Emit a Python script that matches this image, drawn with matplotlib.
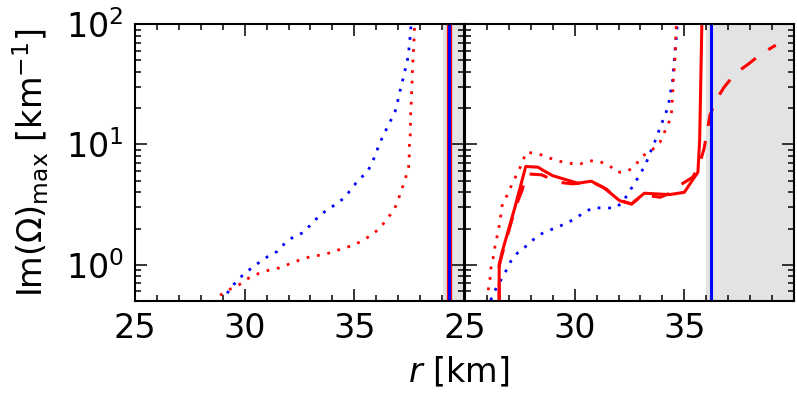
import matplotlib
matplotlib.use('Agg')
import matplotlib.pyplot as plt
from matplotlib.ticker import MultipleLocator, FixedLocator
import numpy as np

# ---- left panel ----
left_blue_r = [29.20, 29.50, 29.85, 30.23, 30.64, 31.05, 31.48, 31.83, 32.23, 32.67,
               33.03, 33.38, 33.77, 34.20, 34.59, 34.89, 35.21, 35.58, 35.82, 36.00,
               36.18, 36.41, 36.62, 36.85, 36.98, 37.09, 37.21, 37.33, 37.44, 37.50,
               37.55, 37.59]
left_blue_y = [0.58, 0.685, 0.80, 0.914, 1.04, 1.17, 1.29, 1.51, 1.71, 1.85,
               2.17, 2.53, 2.87, 3.22, 3.66, 4.35, 5.11, 5.87, 7.08, 8.63,
               10.5, 12.8, 15.3, 18.6, 23.0, 28.2, 34.6, 42.8, 52.4, 64.7,
               80.5, 100.0]

left_red_r = [28.88, 29.30, 29.76, 30.18, 30.64, 31.11, 31.59, 32.06, 32.53, 33.01,
              33.52, 34.00, 34.47, 34.95, 35.40, 35.83, 36.20, 36.50, 36.82, 37.00,
              37.17, 37.32, 37.47, 37.50, 37.51, 37.55, 37.56, 37.57, 37.60, 37.61,
              37.64, 37.65, 37.68, 37.71, 37.73, 37.75]
left_red_y = [0.558, 0.623, 0.685, 0.775, 0.847, 0.903, 0.944, 1.02, 1.10, 1.17,
              1.21, 1.27, 1.37, 1.45, 1.60, 1.79, 2.05, 2.42, 2.87, 3.48,
              4.27, 5.18, 6.40, 7.89, 9.75, 12.1, 15.1, 18.6, 23.0, 28.2,
              35.0, 43.3, 53.4, 66.0, 82.0, 100.0]

left_surface = 39.02
left_red_line = 39.30
left_blue_line = 39.32

# ---- right panel ----
right_blue_r = [26.17, 26.36, 26.85, 27.09, 27.39, 27.79, 28.17, 28.59, 29.06, 29.52,
                29.97, 30.38, 30.82, 31.33, 31.83, 32.20, 32.45, 32.73, 33.00, 33.24,
                33.42, 33.61, 33.80, 33.99, 34.17, 34.30, 34.39, 34.47, 34.51, 34.55,
                34.59, 34.64, 34.68]
right_blue_y = [0.508, 0.607, 0.875, 1.07, 1.25, 1.43, 1.65, 1.86, 2.00, 2.17,
                2.39, 2.68, 2.97, 2.97, 2.96, 3.31, 3.96, 4.73, 5.73, 6.85,
                8.36, 10.0, 12.4, 15.3, 18.5, 22.5, 28.2, 34.1, 42.8, 51.8,
                64.7, 79.4, 100.0]

right_red_dot_r = [26.06, 26.14, 26.18, 26.29, 26.36, 26.47, 26.58, 26.71, 26.98, 27.15,
                   27.39, 27.61, 27.77, 28.24, 28.70, 29.17, 29.67, 30.17, 30.65, 31.09,
                   31.58, 31.95, 32.45, 32.79, 33.09, 33.55, 33.89, 34.09, 34.30, 34.42,
                   34.45, 34.48, 34.50, 34.55, 34.58, 34.60, 34.63]
right_red_dot_y = [0.615, 0.76, 0.93, 1.15, 1.39, 1.74, 2.18, 3.27, 3.93, 4.73,
                   5.77, 6.98, 8.57, 8.47, 7.94, 7.31, 7.04, 6.78, 7.31, 7.28,
                   6.68, 5.84, 6.04, 6.81, 7.99, 9.08, 10.4, 12.6, 15.3, 18.7,
                   23.1, 28.4, 35.0, 43.8, 54.0, 66.8, 100.0]

right_red_solid_r = [26.56, 26.56, 26.67, 27.27, 27.77, 28.33, 28.56, 29.00, 30.15, 30.76,
                     31.29, 31.59, 32.05, 32.58, 33.18, 34.32, 35.00, 35.38, 35.62, 35.70,
                     35.80]
right_red_solid_y = [0.5, 1.0, 1.23, 2.97, 6.56, 6.47, 6.10, 5.50, 4.76, 4.95,
                     4.41, 4.00, 3.41, 3.20, 3.93, 3.83, 4.00, 5.08, 5.87, 10.8,
                     100.0]

right_red_dash_r = [26.56, 26.56, 26.70, 27.30, 27.60, 27.80, 28.50, 29.24, 29.92, 30.76,
                    31.44, 32.00, 32.60, 33.18, 33.50, 33.90, 34.30, 34.77, 35.38, 35.65,
                    35.90, 36.17, 36.44, 36.82, 37.32, 37.95, 38.53, 39.17]
right_red_dash_y = [0.5, 0.98, 1.23, 3.00, 4.14, 5.70, 5.59, 4.85, 4.70, 4.90,
                    4.27, 3.46, 3.20, 3.88, 3.72, 3.64, 3.90, 4.55, 5.34, 6.47,
                    9.20, 17.5, 23.3, 30.0, 38.8, 47.0, 57.0, 66.8]

right_surface = 35.97
right_blue_line = 36.20

plt.rcParams['font.family'] = 'DejaVu Sans'
plt.rcParams['font.size'] = 24
plt.rcParams['mathtext.fontset'] = 'dejavusans'

fig = plt.figure(figsize=(7.97, 3.99), dpi=100)
ax1 = fig.add_axes([0.1694, 0.2456, 0.4128, 0.694])
ax2 = fig.add_axes([0.5834, 0.2456, 0.4128, 0.694], sharey=ax1)

dot = (0, (1, 2.8))
gray = '#e3e3e3'

ax1.axvspan(left_surface, 40, color=gray, lw=0, zorder=0)
ax1.plot(left_blue_r, left_blue_y, color='b', lw=2, linestyle=dot)
ax1.plot(left_red_r, left_red_y, color='r', lw=2, linestyle=dot)
ax1.axvline(left_red_line, color='r', lw=3.8)
ax1.axvline(left_blue_line, color='b', lw=2.2)

ax2.axvspan(right_surface, 40, color=gray, lw=0, zorder=0)
ax2.plot(right_blue_r, right_blue_y, color='b', lw=2, linestyle=dot)
ax2.plot(right_red_dot_r, right_red_dot_y, color='r', lw=2, linestyle=dot)
ax2.plot(right_red_dash_r, right_red_dash_y, color='r', lw=2.2, linestyle=(0, (6, 5)))
ax2.plot(right_red_solid_r, right_red_solid_y, color='r', lw=2.2)
ax2.axvline(right_blue_line, color='b', lw=2.2)

for ax in (ax1, ax2):
    ax.set_yscale('log')
    ax.set_xlim(25, 40)
    ax.set_ylim(0.5, 100)
    ax.xaxis.set_major_locator(FixedLocator([25, 30, 35]))
    ax.xaxis.set_minor_locator(MultipleLocator(1))
    ax.tick_params(which='both', direction='in', top=True, right=True, width=1.1)
    ax.tick_params(which='major', length=8.5, pad=8)
    ax.tick_params(which='minor', length=4.5)
    for s in ax.spines.values():
        s.set_linewidth(1.5)

ax2.tick_params(labelleft=False)

fig.text(0.576, 0.025, r'$r$ [km]', ha='center', va='bottom')
fig.text(0.038, 0.5925, r'$\mathrm{Im}(\Omega)_{\mathrm{max}}\ [\mathrm{km}^{-1}]$',
         rotation=90, ha='center', va='center')

fig.savefig('out.png', dpi=100)
